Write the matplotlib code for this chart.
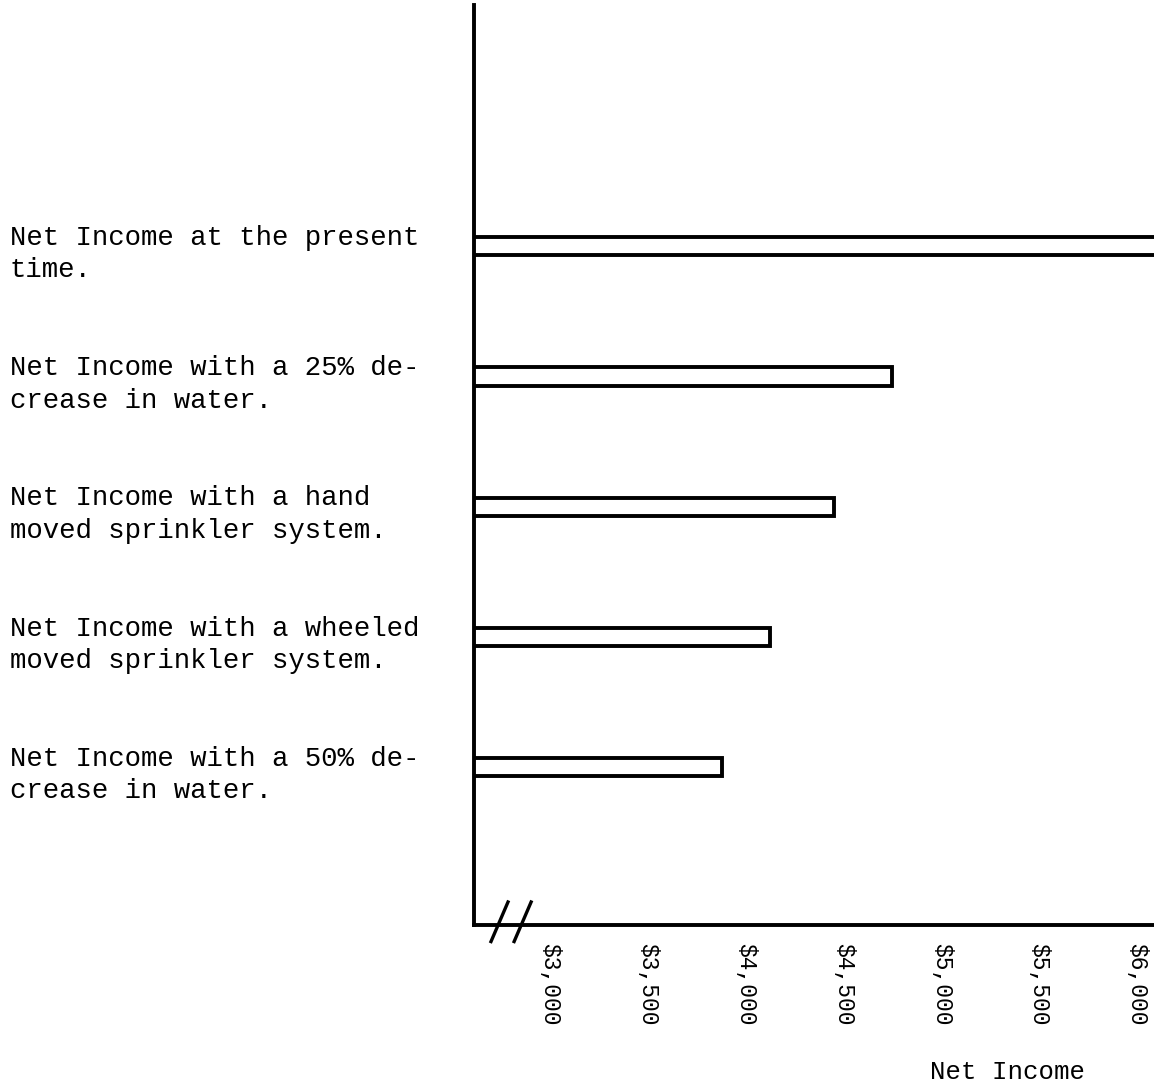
import matplotlib
matplotlib.use("Agg")
import matplotlib.pyplot as plt
from matplotlib.transforms import blended_transform_factory

categories = [
    "Net Income at the present\ntime.",
    "Net Income with a 25% de-\ncrease in water.",
    "Net Income with a hand\nmoved sprinkler system.",
    "Net Income with a wheeled\nmoved sprinkler system.",
    "Net Income with a 50% de-\ncrease in water.",
]
net_income = [6200, 4750, 4450, 4125, 3880]
tick_values = [3000, 3500, 4000, 4500, 5000, 5500, 6000]
tick_labels = ["$3,000", "$3,500", "$4,000", "$4,500", "$5,000", "$5,500", "$6,000"]
x_label = "Net Income"

FONT = "Liberation Mono"
plt.rcParams['font.family'] = [FONT, 'DejaVu Sans Mono']

W, H = 1154, 1084
fig = plt.figure(figsize=(W / 100, H / 100), dpi=100)
ax = fig.add_axes([474 / W, 1 - 925 / H, 1 - 474 / W, (925 - 5) / H])

y = list(range(len(categories)))
ax.barh(y, [v - 2600 for v in net_income], left=2600, height=0.14,
        facecolor="white", edgecolor="black", linewidth=2.8)

ax.set_xlim(2611, 6088)
ax.set_ylim(5.21, -1.85)

for s in ["top", "right"]:
    ax.spines[s].set_visible(False)
for s in ["left", "bottom"]:
    ax.spines[s].set_linewidth(2.8)
    ax.spines[s].set_color("black")

ax.set_yticks([])
ax.set_xticks(tick_values)
ax.set_xticklabels(tick_labels, rotation=-90, fontsize=16.5, va="top", ha="center")
ax.tick_params(axis="x", length=0, pad=13)

fig.text(1008 / W, 1 - 1072 / H, x_label, fontsize=18.5, ha="center", va="center")

tr = blended_transform_factory(fig.transFigure, ax.transData)
for yi, lab in zip(y, categories):
    ax.text(10 / W, yi + 0.06, lab, transform=tr, ha="left", va="center",
            fontsize=19.7, linespacing=1.33)

# axis break marks
for dx in (0.0, 0.034):
    ax.plot([0.025 + dx, 0.05 + dx], [-0.018, 0.025], transform=ax.transAxes,
            color="black", lw=2.4, clip_on=False)

fig.savefig("out.png", dpi=100, facecolor="white")
